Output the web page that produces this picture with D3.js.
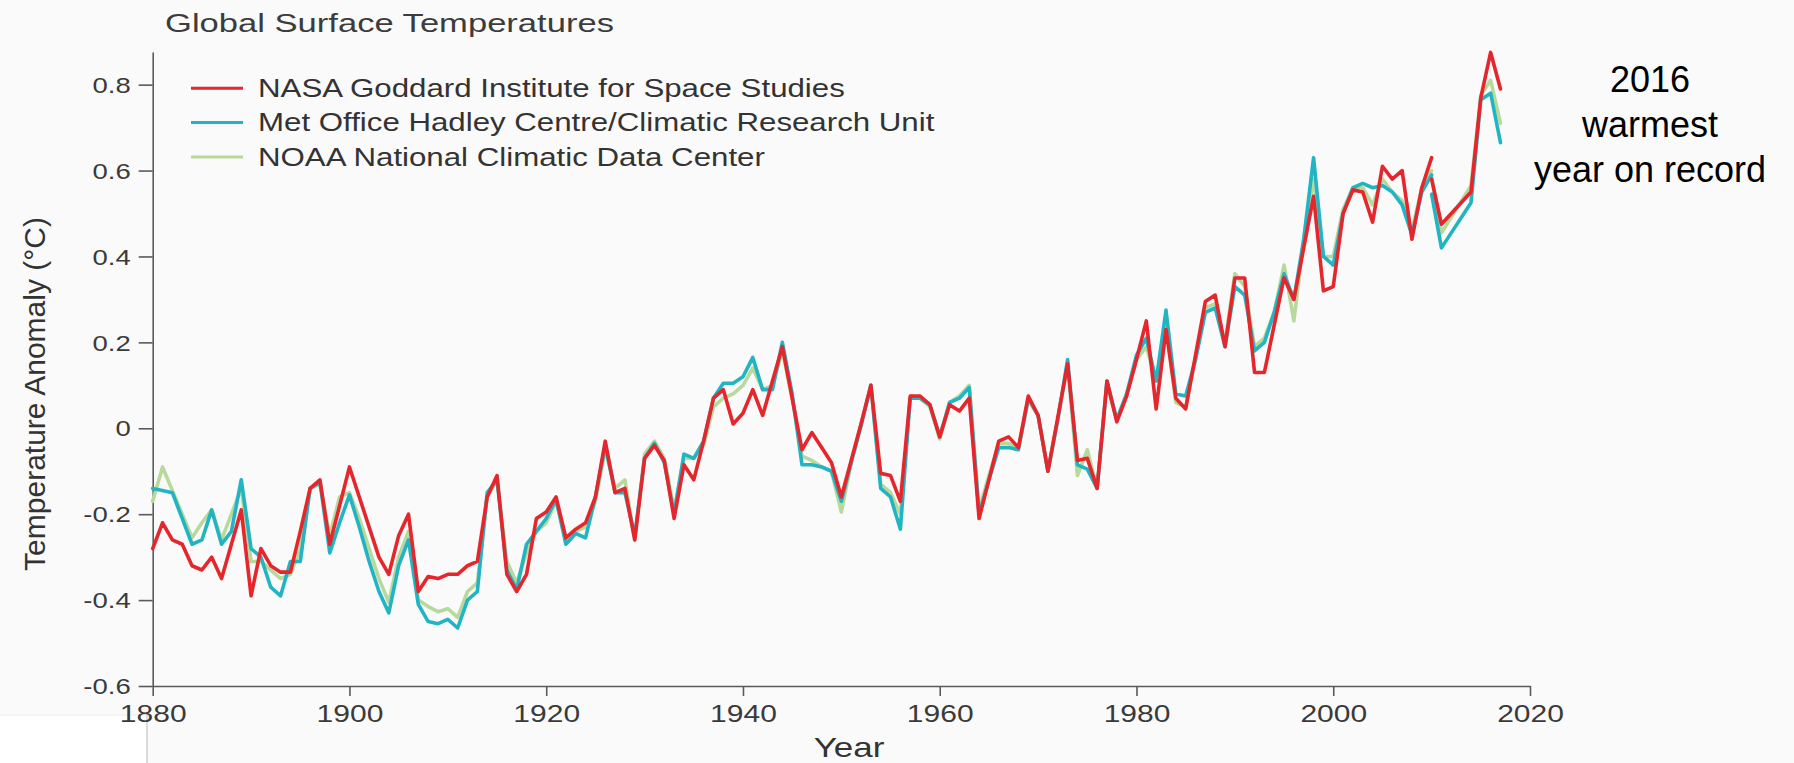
<!DOCTYPE html>
<html>
<head>
<meta charset="utf-8">
<script src="https://cdn.jsdelivr.net/npm/d3@7"></script>
<style>
  html, body { margin: 0; padding: 0; background: #fafafa; }
  svg { display: block; }
</style>
</head>
<body>
<svg id="chart" width="1794" height="763"></svg>
<script>
// Annual global temperature anomalies (°C), one value per year from firstYear
const firstYear = 1880;

const nasa = [
  -0.28, -0.22, -0.26, -0.27, -0.32, -0.33, -0.30, -0.35, -0.27, -0.19,
  -0.39, -0.28, -0.32, -0.335, -0.335, -0.24, -0.14, -0.12, -0.27, -0.18,
  -0.09, -0.16, -0.23, -0.30, -0.34, -0.25, -0.20, -0.38, -0.345, -0.35,
  -0.34, -0.34, -0.32, -0.31, -0.16, -0.11, -0.34, -0.38, -0.34, -0.21,
  -0.195, -0.16, -0.255, -0.235, -0.22, -0.16, -0.03, -0.15, -0.14, -0.26,
  -0.07, -0.04, -0.075, -0.21, -0.085, -0.12, -0.03, 0.07, 0.09, 0.01,
  0.035, 0.09, 0.03, 0.11, 0.19, 0.07, -0.05, -0.01, -0.045, -0.08,
  -0.16, -0.075, 0.01, 0.10, -0.105, -0.11, -0.17, 0.075, 0.075, 0.055,
  -0.02, 0.055, 0.04, 0.07, -0.21, -0.12, -0.03, -0.02, -0.045, 0.075,
  0.03, -0.10, 0.025, 0.15, -0.075, -0.07, -0.14, 0.11, 0.015, 0.075,
  0.16, 0.25, 0.045, 0.23, 0.07, 0.045, 0.17, 0.295, 0.31, 0.19,
  0.35, 0.35, 0.13, 0.13, 0.24, 0.35, 0.30, 0.42, 0.54, 0.32,
  0.33, 0.50, 0.555, 0.55, 0.48, 0.61, 0.58, 0.60, 0.44, 0.56,
  0.63
];

const hadley = [
  -0.14, -0.145, -0.15, -0.21, -0.27, -0.26, -0.19, -0.27, -0.24, -0.12,
  -0.28, -0.30, -0.37, -0.39, -0.31, -0.31, -0.14, -0.125, -0.29, -0.22,
  -0.155, -0.23, -0.31, -0.38, -0.43, -0.32, -0.26, -0.41, -0.45, -0.455,
  -0.445, -0.465, -0.40, -0.38, -0.15, -0.12, -0.33, -0.375, -0.27, -0.24,
  -0.21, -0.165, -0.27, -0.245, -0.255, -0.16, -0.04, -0.15, -0.15, -0.25,
  -0.07, -0.035, -0.08, -0.20, -0.06, -0.07, -0.03, 0.07, 0.105, 0.105,
  0.12, 0.165, 0.09, 0.09, 0.20, 0.08, -0.085, -0.085, -0.09, -0.10,
  -0.17, -0.08, 0.005, 0.10, -0.14, -0.16, -0.235, 0.07, 0.07, 0.055,
  -0.02, 0.06, 0.07, 0.095, -0.20, -0.12, -0.045, -0.045, -0.05, 0.07,
  0.03, -0.10, 0.02, 0.16, -0.085, -0.095, -0.14, 0.11, 0.02, 0.08,
  0.17, 0.21, 0.11, 0.275, 0.08, 0.075, 0.16, 0.27, 0.28, 0.19,
  0.33, 0.31, 0.18, 0.20, 0.27, 0.36, 0.30, 0.44, 0.63, 0.40,
  0.38, 0.50, 0.56, 0.57, 0.56, 0.565, 0.55, 0.52, 0.45, 0.55,
  0.59
];

const noaa = [
  -0.17, -0.09, -0.145, -0.20, -0.255, -0.22, -0.19, -0.26, -0.20, -0.14,
  -0.31, -0.31, -0.33, -0.35, -0.34, -0.28, -0.14, -0.13, -0.25, -0.16,
  -0.15, -0.21, -0.28, -0.35, -0.405, -0.30, -0.24, -0.40, -0.415, -0.427,
  -0.42, -0.44, -0.38, -0.36, -0.16, -0.12, -0.31, -0.36, -0.29, -0.24,
  -0.22, -0.17, -0.26, -0.24, -0.23, -0.17, -0.05, -0.14, -0.12, -0.26,
  -0.06, -0.03, -0.07, -0.19, -0.07, -0.07, -0.04, 0.05, 0.07, 0.08,
  0.10, 0.14, 0.09, 0.10, 0.18, 0.07, -0.065, -0.075, -0.09, -0.10,
  -0.195, -0.08, 0.01, 0.10, -0.13, -0.15, -0.20, 0.07, 0.07, 0.05,
  -0.025, 0.06, 0.075, 0.10, -0.19, -0.11, -0.035, -0.035, -0.045, 0.065,
  0.03, -0.10, 0.02, 0.145, -0.11, -0.05, -0.14, 0.10, 0.02, 0.08,
  0.16, 0.19, 0.11, 0.24, 0.06, 0.05, 0.16, 0.28, 0.29, 0.20,
  0.36, 0.33, 0.19, 0.21, 0.27, 0.38, 0.25, 0.44, 0.58, 0.40,
  0.40, 0.51, 0.56, 0.56, 0.52, 0.58, 0.55, 0.53, 0.46, 0.56,
  0.60
];

// Later update, drawn as its own segment from 2010 on
const recentYears = [2010, 2011, 2014, 2015, 2016, 2017];
const nasaRecent = [0.58, 0.475, 0.55, 0.77, 0.875, 0.79];
const hadleyRecent = [0.545, 0.42, 0.525, 0.765, 0.78, 0.665];
const noaaRecent = [0.585, 0.455, 0.565, 0.775, 0.81, 0.71];

const seriesNames = [
  "NASA Goddard Institute for Space Studies",
  "Met Office Hadley Centre/Climatic Research Unit",
  "NOAA National Climatic Data Center"
];
const seriesColors = ["#e5262d", "#22b4c3", "#b7da9c"];

const yearTicks = [1880, 1900, 1920, 1940, 1960, 1980, 2000, 2020];
const anomalyTicks = [-0.6, -0.4, -0.2, 0, 0.2, 0.4, 0.6, 0.8];
const anomalyTickLabels = ["-0.6", "-0.4", "-0.2", "0", "0.2", "0.4", "0.6", "0.8"];

const titleText = "Global Surface Temperatures";
const xTitle = "Year";
const yTitle = "Temperature Anomaly (\u00B0C)";
const noteLines = ["2016", "warmest", "year on record"];

// ---------------------------------------------------------------------
const FONT = "'Liberation Sans', Arial, Helvetica, sans-serif";
const STRETCH = 1.25;   // horizontal widening of the chart lettering

const svg = d3.select("#chart");

// pale lower-left corner panel
svg.append("rect").attr("x", 0).attr("y", 715).attr("width", 147).attr("height", 48)
  .attr("fill", "#ffffff");
svg.append("line").attr("x1", 0).attr("x2", 147).attr("y1", 715).attr("y2", 715)
  .attr("stroke", "#ececec").attr("stroke-width", 1);
svg.append("line").attr("x1", 147).attr("x2", 147).attr("y1", 715).attr("y2", 763)
  .attr("stroke", "#d0d0d0").attr("stroke-width", 1.5);

const x = d3.scaleLinear().domain([1880, 2020]).range([152.7, 1530]);
const y = d3.scaleLinear().domain([-0.6, 0.876]).range([686, 52]);

// axes
const axisColor = "#5a5a5a";
const yAxis = svg.append("g")
  .attr("transform", `translate(${x(1880)},0)`)
  .call(d3.axisLeft(y).tickValues(anomalyTicks).tickSize(14).tickSizeOuter(0)
    .tickFormat((d, i) => anomalyTickLabels[i]));
yAxis.select(".domain").attr("stroke", axisColor).attr("stroke-width", 1.6);
yAxis.selectAll(".tick line").attr("stroke", axisColor).attr("stroke-width", 1.6);
yAxis.selectAll(".tick text")
  .attr("x", 0).attr("dy", "0.35em")
  .attr("transform", `translate(-22,0) scale(${STRETCH},1)`)
  .attr("fill", "#3a3a3a")
  .style("font-family", FONT).style("font-size", "22px");

const xAxis = svg.append("g")
  .attr("transform", `translate(0,${y(-0.6)})`)
  .call(d3.axisBottom(x).tickValues(yearTicks).tickSize(10).tickSizeOuter(0)
    .tickFormat(d3.format("d")));
xAxis.select(".domain").attr("stroke", axisColor).attr("stroke-width", 1.6);
xAxis.selectAll(".tick line").attr("stroke", axisColor).attr("stroke-width", 1.6);
xAxis.selectAll(".tick text")
  .attr("x", 0).attr("y", 19).attr("dy", "0.71em")
  .attr("transform", `scale(${STRETCH},1)`)
  .attr("fill", "#3a3a3a")
  .style("font-family", FONT).style("font-size", "24px");

// series lines
const toPoints = (vals, start) => vals.map((v, i) => ({ year: start + i, value: v }));
const toPairs = (years, vals) => years.map((yr, i) => ({ year: yr, value: vals[i] }));
const line = d3.line().x(d => x(d.year)).y(d => y(d.value));

const series = [
  { main: toPoints(noaa, firstYear), recent: toPairs(recentYears, noaaRecent), color: seriesColors[2] },
  { main: toPoints(hadley, firstYear), recent: toPairs(recentYears, hadleyRecent), color: seriesColors[1] },
  { main: toPoints(nasa, firstYear), recent: toPairs(recentYears, nasaRecent), color: seriesColors[0] }
];
const plot = svg.append("g");
series.forEach(s => {
  [s.main, s.recent].forEach(pts => {
    plot.append("path").datum(pts)
      .attr("d", line)
      .attr("fill", "none")
      .attr("stroke", s.color)
      .attr("stroke-width", 3.6)
      .attr("stroke-linejoin", "round")
      .attr("stroke-linecap", "round");
  });
});

// title
svg.append("text")
  .attr("transform", "translate(165,32) scale(1.33,1)")
  .attr("fill", "#3c3c3c")
  .style("font-family", FONT).style("font-size", "26px")
  .text(titleText);

// legend
const legend = svg.append("g");
seriesNames.forEach((name, i) => {
  const ly = 88.3 + i * 34.3;
  legend.append("line")
    .attr("x1", 191).attr("x2", 243).attr("y1", ly).attr("y2", ly)
    .attr("stroke", seriesColors[i]).attr("stroke-width", 3);
  legend.append("text")
    .attr("transform", `translate(258,${ly}) scale(${STRETCH},1)`)
    .attr("dy", "0.35em")
    .attr("fill", "#333")
    .style("font-family", FONT).style("font-size", "25px")
    .text(name);
});

// axis titles
svg.append("text")
  .attr("transform", `translate(849,757) scale(${STRETCH},1)`)
  .attr("text-anchor", "middle")
  .attr("fill", "#333")
  .style("font-family", FONT).style("font-size", "28px")
  .text(xTitle);

svg.append("text")
  .attr("transform", "translate(34,394) rotate(-90)")
  .attr("text-anchor", "middle")
  .attr("dy", "0.35em")
  .attr("fill", "#333")
  .style("font-family", FONT).style("font-size", "30px")
  .text(yTitle);

// annotation
const note = svg.append("g");
noteLines.forEach((t, i) => {
  note.append("text")
    .attr("x", 1650).attr("y", 92 + i * 45)
    .attr("text-anchor", "middle")
    .attr("fill", "#000")
    .style("font-family", FONT).style("font-size", "36px")
    .text(t);
});
</script>
</body>
</html>
